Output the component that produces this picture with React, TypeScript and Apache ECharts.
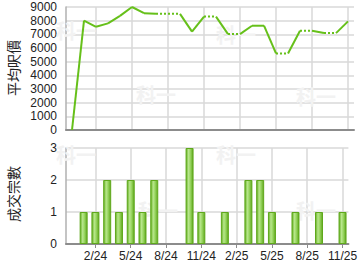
import React, { useEffect, useRef } from "react";
import * as echarts from "echarts";

const months = ["12/23","1/24","2/24","3/24","4/24","5/24","6/24","7/24","8/24","9/24","10/24","11/24","12/24","1/25","2/25","3/25","4/25","5/25","6/25","7/25","8/25","9/25","10/25","11/25"];
const avgPrice = [0,8000,7550,7800,8350,9000,8550,8500,8500,8500,7200,8300,8300,7020,7020,7630,7630,5600,5600,7260,7260,7090,7090,7950];
const dealCount = [0,1,1,2,1,2,1,2,0,0,3,1,0,1,0,2,2,1,0,1,0,1,0,1];
const priceTicks = { min: 0, max: 9000, step: 1000 };
const countTicks = { min: 0, max: 3, step: 1 };
const priceName = "平均呎價";
const countName = "成交宗數";
const watermark = "科一";

const LINE = "#66c01a";
const GRID = "#d9d9d9";
const FONT = "Liberation Sans, Arial, sans-serif";
const CJK = "Noto Sans CJK TC, sans-serif";

export default function App() {
  const ref = useRef<HTMLDivElement>(null);
  useEffect(() => {
    if (!ref.current) return;
    const chart = echarts.init(ref.current, undefined, { renderer: "svg" });
    const every3 = (i: number) => i % 3 === 2;

    const xAxisFor = (gi: number) => ({
      type: "category",
      gridIndex: gi,
      data: months,
      boundaryGap: true,
      axisLine: { show: true, lineStyle: { color: "#8c8c8c", width: 2 } },
      axisTick: { show: gi === 1, alignWithLabel: true, interval: every3, length: 4, lineStyle: { color: "#8c8c8c" } },
      axisLabel: { show: gi === 1, interval: every3, color: "#222", fontFamily: FONT, fontSize: 12, margin: 6 },
      splitLine: { show: true, interval: every3, alignWithLabel: true, lineStyle: { color: GRID, width: 1.5 } },
    });
    const yAxisFor = (gi: number, t: { min: number; max: number; step: number }) => ({
      type: "value",
      gridIndex: gi,
      min: t.min,
      max: t.max,
      interval: t.step,
      axisLine: { show: true, lineStyle: { color: "#b0b0b0", width: 1.5 } },
      axisTick: { show: false },
      axisLabel: { color: "#222", fontFamily: FONT, fontSize: 12, margin: 9, formatter: (v: number) => String(v) },
      splitLine: { show: true, lineStyle: { color: GRID, width: 1.5 } },
    });

    const segSeries: any[] = [];
    for (let i = 0; i < avgPrice.length - 1; i++) {
      const solid = dealCount[i + 1] > 0;
      const data = avgPrice.map((v, k) => (k === i || k === i + 1 ? v : null));
      segSeries.push({
        type: "line",
        xAxisIndex: 0,
        yAxisIndex: 0,
        data,
        symbol: "none",
        connectNulls: false,
        lineStyle: { color: LINE, width: 2, type: solid ? "solid" : [2, 2] },
        silent: true,
        z: 3,
      });
    }

    const wm = (x: number, y: number) => ({
      type: "text",
      x,
      y,
      z: 1,
      silent: true,
      style: { text: watermark, fill: "#f2f2f2", font: `bold 20px ${CJK}` },
    });

    chart.setOption({
      animation: false,
      grid: [
        { left: 66, right: 6, top: 7, bottom: 140 },
        { left: 66, right: 6, top: 148, bottom: 26 },
      ],
      xAxis: [xAxisFor(0), xAxisFor(1)],
      yAxis: [yAxisFor(0, priceTicks), yAxisFor(1, countTicks)],
      graphic: [
        wm(56, 20), wm(136, 84), wm(216, 24), wm(296, 86),
        wm(56, 144), wm(138, 200), wm(216, 144), wm(296, 200),
        {
          type: "text", x: 13, y: 68, rotation: Math.PI / 2,
          style: { text: priceName, fill: "#222", font: `14px ${CJK}`, align: "center", verticalAlign: "middle" },
        },
        {
          type: "text", x: 13, y: 194, rotation: Math.PI / 2,
          style: { text: countName, fill: "#222", font: `14px ${CJK}`, align: "center", verticalAlign: "middle" },
        },
      ],
      series: [
        ...segSeries,
        {
          type: "bar",
          xAxisIndex: 1,
          yAxisIndex: 1,
          data: dealCount.map((v) => (v > 0 ? v : null)),
          barWidth: 8,
          z: 3,
          itemStyle: {
            borderColor: "#5fa81c",
            borderWidth: 1,
            color: {
              type: "linear", x: 0, y: 0, x2: 1, y2: 0,
              colorStops: [
                { offset: 0, color: "#62ae1e" },
                { offset: 0.35, color: "#b8e68c" },
                { offset: 0.6, color: "#9bd764" },
                { offset: 1, color: "#5fa81c" },
              ],
            },
          },
        },
      ],
    });
    return () => chart.dispose();
  }, []);
  return <div ref={ref} style={{ width: 360, height: 270, position: "absolute", left: 0, top: 0 }} />;
}
